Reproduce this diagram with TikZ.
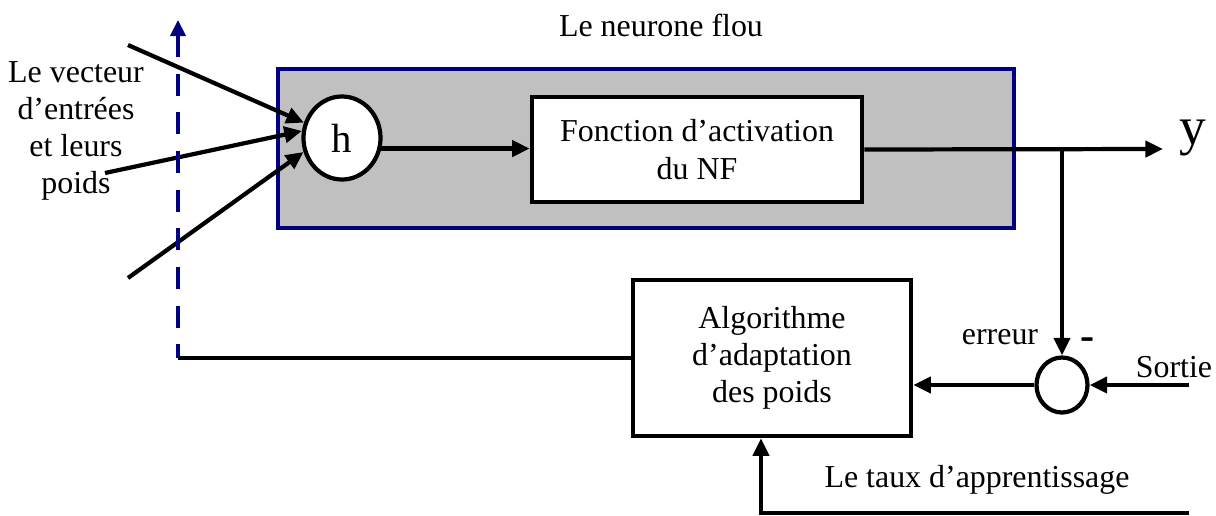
\documentclass[tikz,border=0pt]{standalone}
\usepackage{fontspec}
\setmainfont{Liberation Serif}
\usetikzlibrary{arrows.meta,shapes.geometric}
\definecolor{nfgray}{RGB}{192,192,192}
\definecolor{nfblue}{RGB}{0,0,128}
\tikzset{
  blk/.style={draw,line width=3.2pt,fill=white,align=center,inner sep=0pt},
  sig/.style={line width=3pt,-{Triangle[length=0.44cm,width=0.4cm]}},
  wire/.style={line width=3pt},
  somme/.style={ellipse,draw,line width=3pt,fill=white,inner sep=0pt},
}
\begin{document}
\begin{tikzpicture}[x=0.025cm,y=-0.025cm,every node/.style={font=\fontsize{22.7}{26.5}\selectfont}]
  \useasboundingbox (0,0) rectangle (1216,515);
  % le neurone flou
  \node[draw=nfblue,fill=nfgray,line width=3pt,minimum width=18.4cm,minimum height=3.975cm] (nf) at (646,148.5) {};
  \node (titre) at (661,25) {Le neurone flou};
  \node[blk,minimum width=8.25cm,minimum height=2.625cm] (fnf) at (697,149.5) {Fonction d’activation\\du NF};
  \node[somme,minimum width=1.925cm,minimum height=2.075cm,font=\fontsize{29}{30}\selectfont] (h) at (342,138) {h};
  \node[align=center] (vect) at (76,131) {Le vecteur\\d’entrées\\et leurs\\poids};
  \node[font=\fontsize{38}{40}\selectfont] (ysort) at (1193,138) {y};
  % adaptation
  \node[blk,minimum width=6.95cm,minimum height=3.9cm] (algo) at (772,358) {Algorithme\\d’adaptation\\des poids};
  \node[somme,minimum width=1.275cm,minimum height=1.375cm] (err) at (1062,385) {};
  \node (erreur) at (1000,337) {erreur};
  \node[font=\fontsize{30}{30}\selectfont\bfseries] (moins) at (1088,344) {-};
  \node (sortie) at (1174,367) {Sortie};
  \node (taux) at (977,480) {Le taux d’apprentissage};
  \coordinate (e1) at (128,45); \coordinate (e2) at (105,173); \coordinate (e3) at (128,278);
  \coordinate (ysortie) at (1163,149); \coordinate (br) at (1062,149);
  \coordinate (s1) at (1189,385);
  \coordinate (t1) at (1189,513); \coordinate (t2) at (761,513);
  \coordinate (fb) at (178,358); \coordinate (fbtop) at (178,20);
  % connexions
  \draw[sig] (e1) -- (h.158);
  \draw[sig] (e2) -- (h.170);
  \draw[sig] (e3) -- (h.200);
  \draw[sig] (h.-15) -- (h.-15 -| fnf.west);
  \draw[sig] (fnf.east) -- (ysortie);
  \draw[sig] (br) -- (err.north);
  \draw[sig] (s1) -- (err.east);
  \draw[sig] (err.west) -- (err.west -| algo.east);
  \draw[sig] (t1) -- (t2) -- (t2 |- algo.south);
  \draw[wire] (algo.west) -- (fb);
  \draw[nfblue,line width=2.5pt,dash pattern=on 15.5pt off 12pt,{Triangle[length=0.4cm,width=0.38cm]}-] (fbtop) -- (fb);
\end{tikzpicture}
\end{document}
